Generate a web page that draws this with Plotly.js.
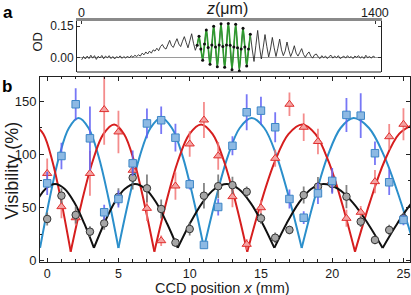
<!DOCTYPE html>
<html><head><meta charset="utf-8">
<script src="https://cdn.plot.ly/plotly-3.0.1.min.js"></script>
<style>html,body{margin:0;padding:0;background:#fff}#chart{width:411px;height:295px}</style>
</head><body><div id="chart"></div>
<script>
// ---------- Panel a : optical density profile ----------
const zStart = 0;          // µm, first sample
const zStep = 8.75;        // µm, sample spacing
const zTicks = [0, 1400];
const odTicks = [0, 0.15];
const odTickText = ['0.00', '0.15'];
const odData = [
 -0.012,0.004,-0.008,0.006,-0.006,0.010,-0.004,0.008,-0.010,0.005,
 -0.003,0.009,-0.007,0.006,-0.002,0.008,-0.006,0.004,-0.008,0.003,
 -0.002,0.007,-0.005,0.004,-0.004,0.006,-0.003,0.008,0.000,0.010,
 0.004,0.012,0.006,0.020,0.012,0.026,0.016,0.030,0.020,0.036,
 0.030,0.044,0.032,0.052,0.062,0.046,0.040,0.058,0.082,0.056,
 0.048,0.070,0.090,0.064,0.052,0.078,0.100,0.072,0.046,0.080,
 0.114,0.068,0.034,0.058,0.102,0.040,-0.014,0.064,0.132,0.048,
 -0.034,0.060,0.150,0.050,-0.046,0.060,0.162,0.052,-0.048,0.060,
 0.164,0.058,-0.060,0.050,0.160,0.046,-0.066,0.040,0.140,0.050,
 -0.042,0.040,0.112,0.040,-0.020,0.056,0.130,0.050,-0.008,0.046,
 0.110,0.052,0.002,0.040,0.096,0.046,0.004,0.044,0.088,0.036,
 0.008,0.030,0.074,0.034,0.004,0.026,0.056,0.020,0.006,0.024,
 0.042,0.014,0.000,0.016,0.026,0.006,-0.004,0.012,0.016,0.002,
 -0.006,0.008,-0.002,0.006,-0.006,0.004,0.010,-0.004,0.006,-0.002,
 0.008,-0.006,0.002,0.006,-0.004,0.008,-0.002,0.004,-0.006,0.006,
 0.000,0.008,-0.004,0.004,-0.006,0.010,-0.002,0.004,-0.004,0.006,
 0.000
];
const fitStart = 551.25;   // µm, first sample of the green fit
const greenFit = [
 0.055,0.100,0.045,-0.012,0.060,0.134,0.050,-0.036,0.055,0.152,
 0.054,-0.044,0.056,0.160,0.054,-0.050,0.056,0.166,0.055,-0.055,
 0.050,0.158,0.050,-0.058,0.042,0.142,0.052,-0.040,0.035,0.110
];
const dotFirst = 63;  // index of first fitted sample in odData
const dotCount = 30;

// ---------- Panel b : visibility vs CCD position ----------
const ccdX = [0,1,2,3,4,5,6,7,8,9,10,11,12,13,14,15,16,17,18,19,20,21,22,23,24,25];
const blueV   = [72.7,98.4,147,115,45.5,58,91.5,129,132,115.6,71.8,14.8,50.5,108,139.5,141,125.4,58,40.4,63.3,75,137,136.3,101,73.7,38.3];
const blueErr = [11,12.5,15,30,7,8,12,14,13,13,5,3,8,9,17,13,14,9,6,10,12,16,21,11,12,5];
const redV    = [82,50.8,40.4,82,142,121,85,49.2,18.8,70.2,109.7,132.2,98.5,60.2,15.4,49.8,96.2,147,125.4,112,75,39.8,45.5,74.3,116.5,128.2];
const redErr  = [14,11,7,21,33,20,10,12,5,13,12,17,13,10,5,7,8,11,13,12,10,8,6,11,12,15];
const blackV  = [39.2,61.1,43,27.3,35.1,60,78,68,48.6,17,29.8,61.1,70,71,64.8,39.8,21.6,28.9,61.7,69.6,72,60.2,36.7,19.5,28.9,40];
const blackErr= [6,7,8,5,6,8,11,13,9,4,6,12,11,8,5,5,5,4,8,9,8,11,5,4,5,5];

// fitted curves (null separates lobes at the cusps)
const blueFitX = [-0.5,0.175,0.85,1.525,2.2,2.9,3.6,4.3,5.0, 5.0, 5.0,5.75,6.5,7.25,8.0,8.75,9.5,10.25,11.0, 11.0,
  11.0,11.84,12.68,13.51,14.35,15.23,16.1,16.98,17.86, 17.86, 17.86,18.77,19.68,20.59,21.5,22.58,23.65,24.73,25.8];
const blueFitY = [12,58.7,98.3,124.7,134,124.7,98.3,58.7,12, null, 12,58.7,98.3,124.7,134,124.7,98.3,58.7,12, null,
  12,58.7,98.3,124.7,134,124.7,98.3,58.7,12, null, 12,58.7,98.3,124.7,134,124.7,98.3,58.7,12];
const redFitX = [-0.9,-0.26,0.375,1.01,1.65, 1.65, 1.65,2.41,3.18,3.94,4.7,5.4,6.11,6.81,7.52, 7.52,
  7.52,8.34,9.16,9.98,10.8,11.61,12.42,13.23,14.04, 14.04, 14.04,15.0,15.97,16.93,17.9,18.83,19.75,20.68,21.6, 21.6,
  21.6,22.63,23.65,24.68,25.7];
const redFitY = [128,118.9,93,54.3,8.5, null, 8.5,54.3,93,118.9,128,118.9,93,54.3,8.5, null,
  8.5,54.3,93,118.9,128,118.9,93,54.3,8.5, null, 8.5,54.3,93,118.9,128,118.9,93,54.3,8.5, null,
  8.5,54.3,93,118.9,128];
const blackFitX = [-2.15,-1.475,-0.8,-0.125,0.55,1.23,1.915,2.6,3.28, 3.28, 3.28,4.0,4.72,5.44,6.16,6.91,7.66,8.41,9.16, 9.16,
  9.16,10.02,10.88,11.74,12.6,13.44,14.27,15.11,15.94, 15.94, 15.94,16.8,17.66,18.52,19.38,20.42,21.46,22.5,23.54, 23.54,
  23.54,24.57,25.59,26.62,27.64];
const blackFitY = [12,35,54.4,67.4,72,67.4,54.4,35,12, null, 12,35,54.4,67.4,72,67.4,54.4,35,12, null,
  12,35,54.4,67.4,72,67.4,54.4,35,12, null, 12,35,54.4,67.4,72,67.4,54.4,35,12, null,
  12,35,54.4,67.4,72];

const FONT = '"Liberation Sans", Arial, Helvetica, sans-serif';
const TXT = '#1a1a1a';

const traces = [
  {x0: zStart, dx: zStep, y: odData, xaxis:'x', yaxis:'y', mode:'lines',
   line:{color:'#2a2a2a', width:0.9}, hoverinfo:'skip'},
  {x0: fitStart, dx: zStep, y: greenFit, xaxis:'x', yaxis:'y', mode:'lines',
   line:{color:'#2e9a2e', width:1.6, shape:'spline'}, hoverinfo:'skip'},
  {x0: dotFirst*zStep, dx: zStep, y: odData.slice(dotFirst, dotFirst+dotCount), xaxis:'x', yaxis:'y', mode:'markers',
   marker:{color:'#111', size:3}, hoverinfo:'skip'},

  {x: blueFitX, y: blueFitY, xaxis:'x2', yaxis:'y2', mode:'lines', line:{color:'#2b8fcb', width:2, shape:'spline'}, connectgaps:false},
  {x: redFitX, y: redFitY, xaxis:'x2', yaxis:'y2', mode:'lines', line:{color:'#d61e1e', width:2, shape:'spline'}, connectgaps:false},
  {x: blackFitX, y: blackFitY, xaxis:'x2', yaxis:'y2', mode:'lines', line:{color:'#111', width:2, shape:'spline'}, connectgaps:false},

  {x: ccdX, y: redV, xaxis:'x2', yaxis:'y2', mode:'markers',
   error_y:{type:'data', array: redErr, visible:true, color:'rgba(242,120,120,0.85)', thickness:1.8, width:0},
   marker:{symbol:'triangle-up', size:8, color:'#f4a3a3', line:{color:'#e0302f', width:1}}},
  {x: ccdX, y: blackV, xaxis:'x2', yaxis:'y2', mode:'markers',
   error_y:{type:'data', array: blackErr, visible:true, color:'rgba(110,110,110,0.85)', thickness:1.8, width:0},
   marker:{symbol:'circle', size:7.5, color:'#a6a6a6', line:{color:'#333', width:1}}},
  {x: ccdX, y: blueV, xaxis:'x2', yaxis:'y2', mode:'markers',
   error_y:{type:'data', array: blueErr, visible:true, color:'rgba(95,95,245,0.85)', thickness:1.8, width:0},
   marker:{symbol:'square', size:7.5, color:'#8db9e3', line:{color:'#3d86c6', width:1}}}
];

// panel a top-axis tick labels, placed on the z axis (data x, paper y)
const zTickAnn = zTicks.map(v => ({text: String(v), xref:'x', yref:'paper', x: v, y: 1-13/295,
  xanchor:'center', yanchor:'middle', showarrow:false, borderpad:0, font:{size:12.5, family:FONT, color:TXT}}));

const layout = {
  width:411, height:295, margin:{l:0, r:0, t:0, b:0},
  paper_bgcolor:'#fff', plot_bgcolor:'#fff', showlegend:false,
  font:{family:FONT, size:13, color:TXT},
  xaxis:{domain:[0.1873,0.9270], anchor:'y', side:'top', range:[-22.4,1428.6],
    tickvals:zTicks, showticklabels:false, ticks:'inside', ticklen:3, tickcolor:'#333',
    showline:true, linecolor:'#8a8a8a', linewidth:2.5, showgrid:false, zeroline:false},
  yaxis:{domain:[0.7559,0.9305], anchor:'x', range:[-0.071,0.178],
    tickvals:odTicks, ticktext:odTickText, ticks:'inside', ticklen:3, tickcolor:'#333',
    showline:true, linecolor:'#222', linewidth:1, mirror:'ticks', showgrid:false,
    zeroline:true, zerolinecolor:'#9a9a9a', zerolinewidth:1,
    tickfont:{size:12, family:FONT, color:TXT}},
  xaxis2:{domain:[0.0973,0.9976], anchor:'y2', range:[-0.505,25.46],
    tick0:0, dtick:5, ticks:'inside', ticklen:4, tickcolor:'#222',
    minor:{dtick:1, tick0:0, ticks:'inside', ticklen:2.5, tickcolor:'#222'},
    showline:true, linecolor:'#222', linewidth:1, mirror:'ticks', showgrid:false, zeroline:false,
    tickfont:{size:12.5, family:FONT, color:TXT}},
  yaxis2:{domain:[0.1119,0.74], anchor:'x2', range:[-1.2,172.9],
    tick0:0, dtick:50, ticks:'inside', ticklen:4, tickcolor:'#222',
    minor:{dtick:25, tick0:0, ticks:'inside', ticklen:2.5, tickcolor:'#222'},
    showline:true, linecolor:'#222', linewidth:1, mirror:'ticks', showgrid:false, zeroline:false,
    tickfont:{size:13, family:FONT, color:TXT}},
  shapes:[
    {type:'line', xref:'x domain', yref:'y domain', x0:0, x1:1, y0:0, y1:0, line:{color:'#222', width:1}}
  ],
  annotations:[
    ...zTickAnn,
    {text:'<i>z</i>(μm)', xref:'paper', yref:'paper', x:227/411, y:1-8/295, xanchor:'center', yanchor:'middle',
     showarrow:false, borderpad:0, font:{size:16, family:FONT, color:TXT}},
    {text:'OD', xref:'paper', yref:'paper', x:37.5/411, y:1-42/295, xanchor:'center', yanchor:'middle', textangle:-90,
     showarrow:false, borderpad:0, font:{size:13, family:FONT, color:TXT}},
    {text:'CCD position <i>x</i> (mm)', xref:'paper', yref:'paper', x:222/411, y:1-287.8/295, xanchor:'center', yanchor:'middle',
     showarrow:false, borderpad:0, font:{size:14.5, family:FONT, color:TXT}},
    {text:'Visibility (%)', xref:'paper', yref:'paper', x:11.5/411, y:1-171/295, xanchor:'center', yanchor:'middle', textangle:-90,
     showarrow:false, borderpad:0, font:{size:18, family:FONT, color:TXT}},
    {text:'<b>a</b>', xref:'paper', yref:'paper', x:2/411, y:1-13/295, xanchor:'left', yanchor:'middle',
     showarrow:false, borderpad:0, font:{size:17, family:FONT, color:'#000'}},
    {text:'<b>b</b>', xref:'paper', yref:'paper', x:1/411, y:1-86/295, xanchor:'left', yanchor:'middle',
     showarrow:false, borderpad:0, font:{size:17, family:FONT, color:'#000'}}
  ]
};

Plotly.newPlot('chart', traces, layout, {displayModeBar:false, staticPlot:true});
</script></body></html>
